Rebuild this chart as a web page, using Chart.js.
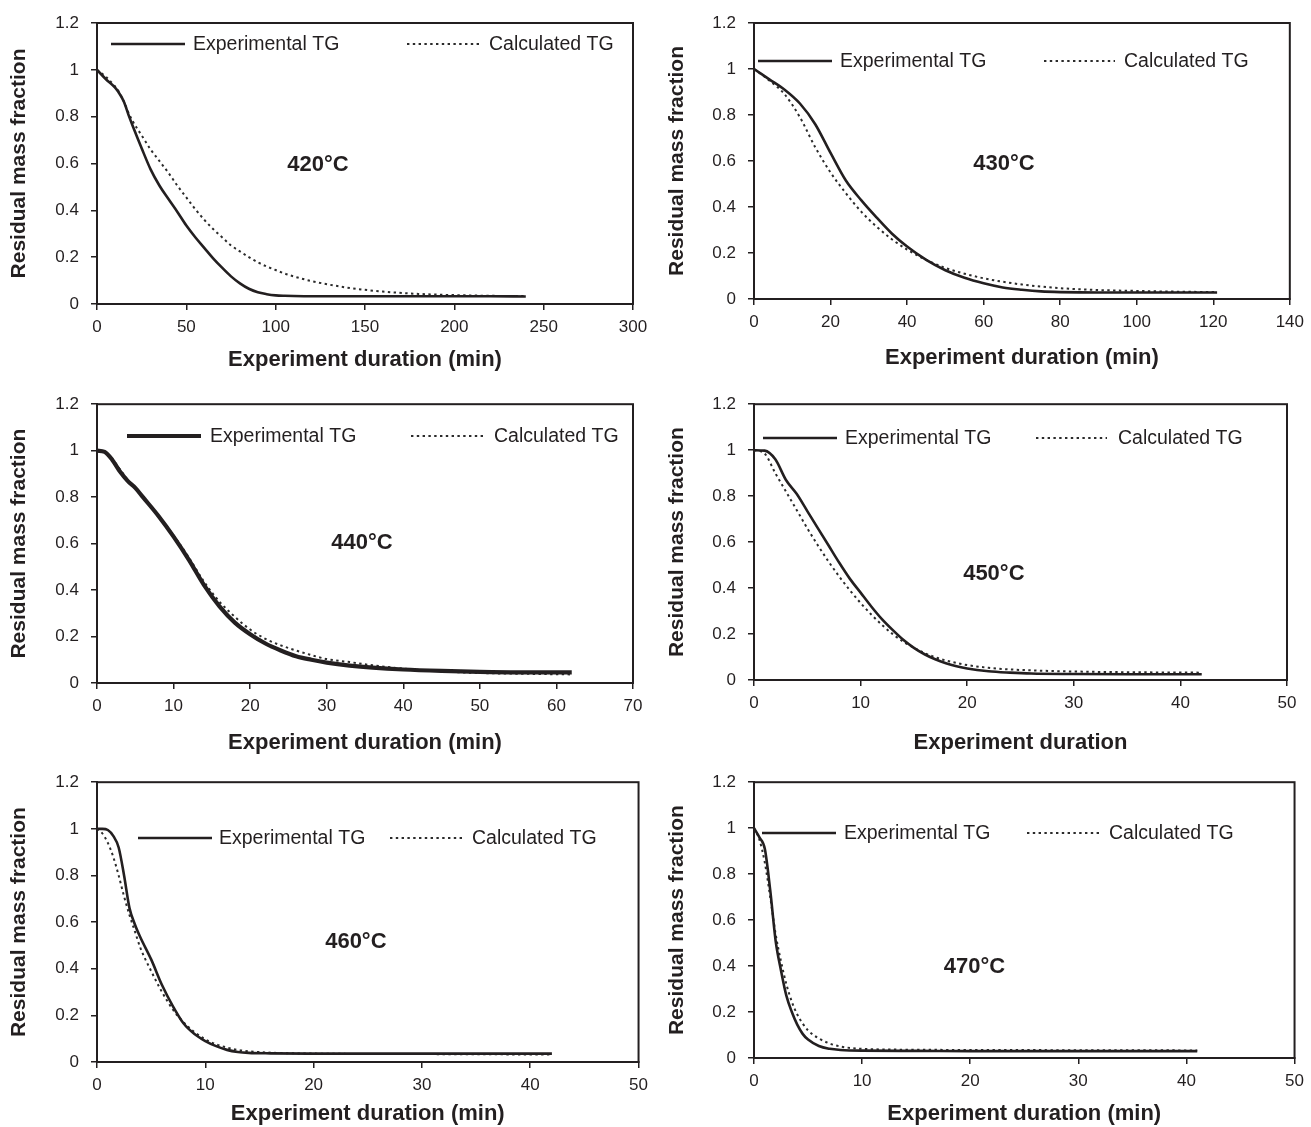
<!DOCTYPE html>
<html>
<head>
<meta charset="utf-8">
<title>TG curves</title>
<script src="https://cdn.jsdelivr.net/npm/chart.js@4.4.1/dist/chart.umd.min.js"></script>
<style>
  html, body { margin: 0; padding: 0; background: #fff; }
  #wrap { position: relative; width: 1311px; height: 1127px; overflow: hidden; }
  #wrap canvas { position: absolute; }
</style>
</head>
<body>
<div id="wrap"></div>
<script>
// ---- data (time in min, residual mass fraction) ----
const t420 = [0, 5, 10, 12, 15, 18, 20, 25, 30, 35, 40, 45, 50, 55, 60, 65, 70, 75, 80, 85, 90, 95, 100, 105, 110, 120, 140, 160, 180, 200, 220, 240];
const exp420 = [1.0, 0.96, 0.925, 0.905, 0.865, 0.8, 0.76, 0.665, 0.575, 0.505, 0.448, 0.393, 0.335, 0.285, 0.24, 0.195, 0.155, 0.118, 0.088, 0.065, 0.05, 0.042, 0.037, 0.035, 0.034, 0.033, 0.033, 0.033, 0.033, 0.033, 0.033, 0.032];
const calc420 = [1.0, 0.97, 0.93, 0.91, 0.865, 0.81, 0.78, 0.72, 0.66, 0.61, 0.56, 0.505, 0.455, 0.405, 0.36, 0.32, 0.285, 0.25, 0.225, 0.2, 0.178, 0.16, 0.145, 0.13, 0.118, 0.098, 0.07, 0.053, 0.043, 0.038, 0.035, 0.034];

const t430 = [0, 4, 8, 12, 16, 20, 24, 28, 32, 36, 40, 45, 50, 55, 60, 65, 70, 75, 80, 90, 100, 110, 121];
const exp430 = [1.0, 0.955, 0.91, 0.85, 0.76, 0.635, 0.515, 0.43, 0.355, 0.285, 0.228, 0.17, 0.125, 0.092, 0.068, 0.05, 0.04, 0.033, 0.03, 0.028, 0.028, 0.028, 0.028];
const calc430 = [1.0, 0.95, 0.89, 0.79, 0.66, 0.55, 0.46, 0.38, 0.315, 0.26, 0.215, 0.17, 0.135, 0.11, 0.09, 0.075, 0.063, 0.054, 0.047, 0.039, 0.035, 0.032, 0.03];

const t440 = [0, 1, 2, 3, 4, 5, 6, 8, 10, 12, 14, 16, 18, 20, 22, 24, 26, 28, 30, 33, 36, 40, 45, 50, 55, 62];
const exp440 = [1.0, 0.995, 0.96, 0.91, 0.87, 0.84, 0.8, 0.72, 0.63, 0.53, 0.42, 0.33, 0.26, 0.21, 0.17, 0.14, 0.115, 0.1, 0.088, 0.075, 0.066, 0.058, 0.052, 0.048, 0.046, 0.046];
const calc440 = [1.0, 0.995, 0.965, 0.92, 0.875, 0.84, 0.8, 0.72, 0.635, 0.54, 0.435, 0.35, 0.285, 0.23, 0.19, 0.162, 0.14, 0.12, 0.103, 0.09, 0.076, 0.062, 0.05, 0.043, 0.04, 0.037];

const t450 = [0, 1, 2, 3, 4, 5, 6, 7, 8, 9, 10, 11, 12, 13, 14, 15, 16, 17, 18, 19, 20, 22, 24, 26, 30, 35, 42];
const exp450 = [1.0, 0.998, 0.96, 0.87, 0.81, 0.735, 0.66, 0.585, 0.51, 0.44, 0.38, 0.32, 0.265, 0.218, 0.175, 0.14, 0.112, 0.09, 0.073, 0.06, 0.05, 0.038, 0.032, 0.028, 0.026, 0.025, 0.025];
const calc450 = [1.0, 0.985, 0.9, 0.82, 0.74, 0.66, 0.585, 0.515, 0.45, 0.39, 0.335, 0.285, 0.24, 0.2, 0.167, 0.14, 0.117, 0.099, 0.085, 0.074, 0.065, 0.053, 0.046, 0.042, 0.037, 0.034, 0.032];

const t460 = [0, 0.5, 1, 1.5, 2, 2.5, 3, 3.5, 4, 5, 6, 7, 8, 9, 10, 11, 12, 13, 14, 16, 20, 30, 42];
const exp460 = [1.0, 1.0, 0.995, 0.97, 0.92, 0.8, 0.66, 0.59, 0.535, 0.44, 0.33, 0.24, 0.165, 0.12, 0.09, 0.068, 0.052, 0.043, 0.039, 0.037, 0.036, 0.036, 0.036];
const calc460 = [1.0, 0.98, 0.94, 0.88, 0.8, 0.71, 0.63, 0.56, 0.49, 0.39, 0.3, 0.225, 0.17, 0.128, 0.097, 0.076, 0.062, 0.052, 0.046, 0.04, 0.036, 0.034, 0.032];

const t470 = [0, 0.5, 1, 1.5, 2, 2.5, 3, 3.5, 4, 4.5, 5, 6, 7, 8, 10, 15, 20, 30, 41];
const exp470 = [1.0, 0.96, 0.91, 0.73, 0.51, 0.38, 0.27, 0.2, 0.145, 0.105, 0.08, 0.052, 0.04, 0.035, 0.032, 0.031, 0.03, 0.03, 0.03];
const calc470 = [1.0, 0.95, 0.85, 0.7, 0.54, 0.42, 0.32, 0.245, 0.19, 0.15, 0.12, 0.085, 0.063, 0.05, 0.04, 0.036, 0.035, 0.034, 0.033];

const yTicks = [0, 0.2, 0.4, 0.6, 0.8, 1, 1.2];
const seriesNames = ['Experimental TG', 'Calculated TG'];
const yTitle = 'Residual mass fraction';
const xTitleMin = 'Experiment duration (min)';
const xTitlePlain = 'Experiment duration';

// ---- panel layout (page pixels) ----
const FONT = '"Liberation Sans", Arial, Helvetica, sans-serif';
const INK = '#231f20';

const panels = [
  { temp: '420°C', t: t420, exp: exp420, calc: calc420, xMax: 300, xStep: 50, xTitle: xTitleMin,
    box: [0, 0, 655, 382], plot: [97, 633, 23, 304], tPad: [7, 9], at: [123.7, 0.594], expW: 2.6,
    leg: { y: 44, solid: [111, 185], a: 193, dot: [407, 479], b: 489 } },
  { temp: '430°C', t: t430, exp: exp430, calc: calc430, xMax: 140, xStep: 20, xTitle: xTitleMin,
    box: [655, 0, 656, 382], plot: [754, 1290, 23, 299], tPad: [10, 11], at: [65.3, 0.587], expW: 2.6,
    leg: { y: 61, solid: [758, 832], a: 840, dot: [1044, 1115], b: 1124 } },
  { temp: '440°C', t: t440, exp: exp440, calc: calc440, xMax: 70, xStep: 10, xTitle: xTitleMin,
    box: [0, 382, 655, 378], plot: [97, 633, 402, 683], tPad: [7, 4], at: [34.6, 0.603], expW: 4.2,
    leg: { y: 436, solid: [127, 201], a: 210, dot: [411, 483], b: 494 } },
  { temp: '450°C', t: t450, exp: exp450, calc: calc450, xMax: 50, xStep: 10, xTitle: xTitlePlain,
    box: [655, 382, 656, 378], plot: [754, 1287, 402, 680], tPad: [10, 4], at: [22.5, 0.462], expW: 2.6,
    leg: { y: 438, solid: [763, 837], a: 845, dot: [1036, 1107], b: 1118 } },
  { temp: '460°C', t: t460, exp: exp460, calc: calc460, xMax: 50, xStep: 10, xTitle: xTitleMin,
    box: [0, 760, 655, 367], plot: [97, 644, 782, 1062], tPad: [7, 0], at: [23.9, 0.516], expW: 2.6,
    leg: { y: 838, solid: [138, 212], a: 219, dot: [390, 462], b: 472 } },
  { temp: '470°C', t: t470, exp: exp470, calc: calc470, xMax: 50, xStep: 10, xTitle: xTitleMin,
    box: [655, 760, 656, 367], plot: [754, 1299, 782, 1058], tPad: [10, 0], at: [20.4, 0.397], expW: 2.6,
    leg: { y: 833, solid: [762, 836], a: 844, dot: [1027, 1099], b: 1109 } }
];

// frame, temperature label and in-plot legend
const panelDeco = {
  id: 'panelDeco',
  afterDatasetsDraw(chart, args, o) {
    const { ctx, chartArea: a, scales } = chart;
    const ds = chart.data.datasets;
    ctx.save();
    ctx.strokeStyle = INK;
    ctx.lineWidth = 2;
    ctx.strokeRect(a.left, a.top, a.right - a.left, a.bottom - a.top);

    ctx.fillStyle = INK;
    ctx.textAlign = 'center';
    ctx.textBaseline = 'middle';
    ctx.font = 'bold 22px ' + FONT;
    ctx.fillText(o.temp, scales.x.getPixelForValue(o.at[0]), scales.y.getPixelForValue(o.at[1]));

    const L = o.leg, ox = o.ox, y = L.y - o.oy;
    ctx.beginPath();
    ctx.strokeStyle = ds[0].borderColor;
    ctx.lineWidth = ds[0].borderWidth;
    ctx.moveTo(L.solid[0] - ox, y);
    ctx.lineTo(L.solid[1] - ox, y);
    ctx.stroke();
    ctx.beginPath();
    ctx.strokeStyle = ds[1].borderColor;
    ctx.lineWidth = ds[1].borderWidth;
    ctx.setLineDash(ds[1].borderDash);
    ctx.moveTo(L.dot[0] - ox, y);
    ctx.lineTo(L.dot[1] - ox, y);
    ctx.stroke();
    ctx.setLineDash([]);

    ctx.textAlign = 'left';
    ctx.font = '19.5px ' + FONT;
    ctx.fillText(ds[0].label, L.a - ox, y + 1);
    ctx.fillText(ds[1].label, L.b - ox, y + 1);
    ctx.restore();
  }
};

const wrap = document.getElementById('wrap');
const tickFont = { family: FONT, size: 17 };
const xTitleFont = { family: FONT, size: 22, weight: 'bold' };
const yTitleFont = { family: FONT, size: 21, weight: 'bold' };

panels.forEach(p => {
  const [bl, bt, bw, bh] = p.box;
  const [pl, pr, pt, pb] = p.plot;
  const cv = document.createElement('canvas');
  cv.width = bw; cv.height = bh;
  cv.style.left = bl + 'px'; cv.style.top = bt + 'px';
  cv.style.width = bw + 'px'; cv.style.height = bh + 'px';
  wrap.appendChild(cv);

  new Chart(cv, {
    type: 'line',
    data: {
      datasets: [
        { label: seriesNames[0], data: p.t.map((x, i) => ({ x, y: p.exp[i] })),
          borderColor: INK, borderWidth: p.expW, pointRadius: 0, cubicInterpolationMode: 'monotone' },
        { label: seriesNames[1], data: p.t.map((x, i) => ({ x, y: p.calc[i] })),
          borderColor: '#2b2b2b', borderWidth: 2, borderDash: [2.4, 3.4], pointRadius: 0, cubicInterpolationMode: 'monotone' }
      ]
    },
    plugins: [panelDeco],
    options: {
      responsive: false,
      animation: false,
      devicePixelRatio: 1,
      layout: { padding: { left: 0, top: pt - bt, right: bl + bw - pr, bottom: 0 } },
      plugins: {
        legend: { display: false },
        tooltip: { enabled: false },
        panelDeco: { temp: p.temp, at: p.at, leg: p.leg, ox: bl, oy: bt }
      },
      scales: {
        x: {
          type: 'linear', min: 0, max: p.xMax,
          afterFit: s => { s.height = bt + bh - pb; },
          ticks: { stepSize: p.xStep, font: tickFont, color: INK, padding: 7, maxRotation: 0, autoSkip: false },
          grid: { drawOnChartArea: false, color: INK, lineWidth: 1.5, tickLength: 6 },
          border: { color: INK, width: 2 },
          title: { display: true, text: p.xTitle, font: xTitleFont, color: INK, padding: { top: 0, bottom: p.tPad[1] } }
        },
        y: {
          min: 0, max: 1.2,
          afterFit: s => { s.width = pl - bl; },
          afterBuildTicks: s => { s.ticks = yTicks.map(v => ({ value: v })); },
          ticks: { font: tickFont, color: INK, padding: 12, callback: v => String(Math.round(v * 10) / 10) },
          grid: { drawOnChartArea: false, color: INK, lineWidth: 1.5, tickLength: 6 },
          border: { color: INK, width: 2 },
          title: { display: true, text: yTitle, font: yTitleFont, color: INK, padding: { top: p.tPad[0], bottom: 0 } }
        }
      }
    }
  });
});
</script>
</body>
</html>
